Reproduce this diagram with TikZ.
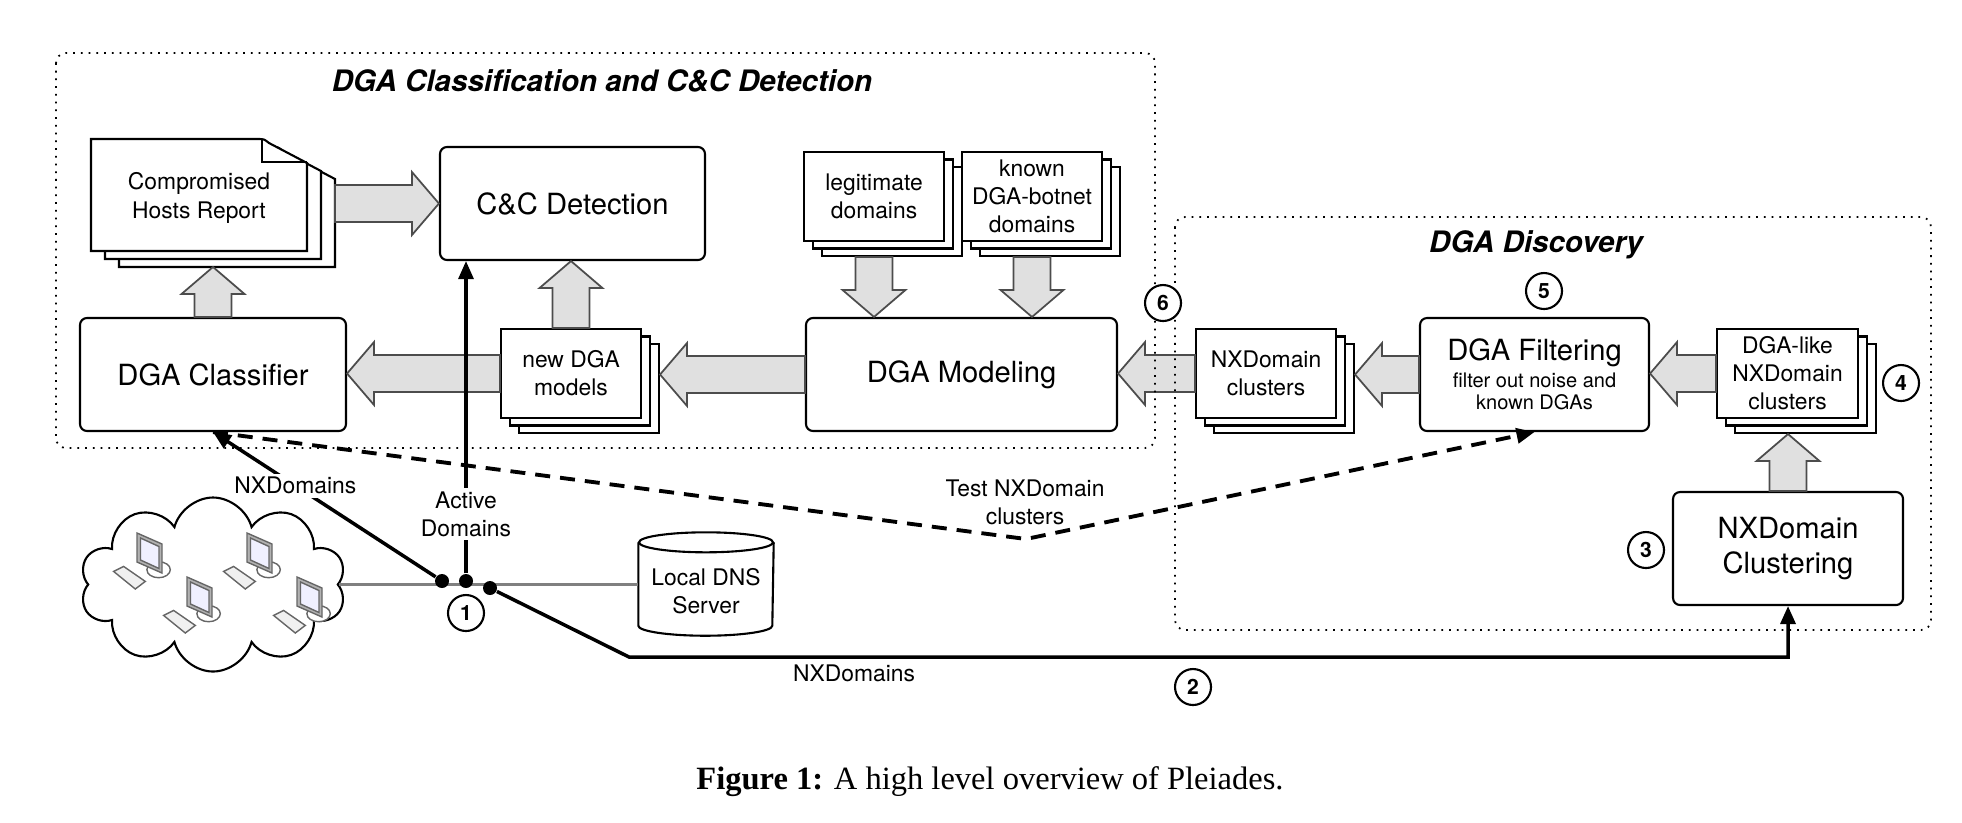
\documentclass[tikz,border=0pt]{standalone}
\usepackage{fontspec}
\setmainfont{TeX Gyre Heros}
\newfontfamily\figcapfont{Liberation Serif}
\usetikzlibrary{calc,arrows.meta,shadows,shapes.symbols}

\newcommand\boxfont{\fontsize{8.3}{10}\selectfont}
\newcommand\sheetfont{\fontsize{6.5}{8}\selectfont}
\newcommand\notefont{\fontsize{5.7}{6.3}\selectfont}

% wide grey arrow from #1 to #2
\newcommand\fatarrow[2]{%
  \draw[fatarrow] ($(#1)!1.85mm!90:(#2)$)
    -- ($(#2)!2.7mm!(#1)!1.85mm!90:(#2)$)
    -- ($(#2)!2.7mm!(#1)!3.15mm!90:(#2)$)
    -- (#2)
    -- ($(#2)!2.7mm!(#1)!3.15mm!-90:(#2)$)
    -- ($(#2)!2.7mm!(#1)!1.85mm!-90:(#2)$)
    -- ($(#1)!1.85mm!-90:(#2)$) -- cycle;}

\tikzset{
  box/.style={draw, line width=0.6pt, rounded corners=0.7mm, inner sep=0pt, align=center, font=\boxfont},
  sheets/.style={draw, fill=white, line width=0.6pt, inner sep=0pt, align=center, font=\sheetfont,
    minimum width=14mm, minimum height=8.9mm,
    copy shadow={shadow xshift=1.8mm, shadow yshift=-1.5mm, draw=black, fill=white, line width=0.6pt},
    copy shadow={shadow xshift=0.9mm, shadow yshift=-0.75mm, draw=black, fill=white, line width=0.6pt}},
  fatarrow/.style={draw=black!70, fill=black!12, line width=0.5pt},
  zone/.style={line width=0.5pt, dash pattern=on 0.5pt off 1.7pt, rounded corners=1mm},
  zonetitle/.style={font=\bfseries\itshape\fontsize{8.4}{10}\selectfont},
  stepno/.style={circle, draw, fill=white, line width=0.6pt, minimum size=3.6mm, inner sep=0pt,
    font=\bfseries\fontsize{6}{6}\selectfont},
  wire/.style={line width=1pt, -{Triangle[length=1.8mm,width=1.5mm]}},
  testline/.style={line width=1.1pt, dash pattern=on 1.5mm off 1mm, -{Triangle[length=1.8mm,width=1.5mm]}},
  lbl/.style={font=\sheetfont, align=center, inner sep=1pt},
  tap/.style={circle, fill, inner sep=0pt, minimum size=1.4mm},
  lanline/.style={draw=black!50, line width=1.1pt},
  pcline/.style={draw=black!60, line width=0.4pt},
}

\begin{document}
\begin{tikzpicture}[x=1mm,y=-1mm]
\useasboundingbox (0,0) rectangle (196.2,82.2);

% report sheets with folded corner
\foreach \d in {2,1,0} {
  \draw[line width=0.6pt, fill=white, shift={(1.4*\d,0.8*\d)}]
    (9.1,13.9) -- (25.7,13.9) .. controls (26.4,13.9) .. (26.9,14.3)
    -- (30.7,16.3) -- (30.7,25.1) -- (9.1,25.1) -- cycle;
}
\draw[line width=0.6pt] (26.2,14.0) -- (26.2,16.2) -- (30.7,16.2);
\node[minimum width=21.6mm, minimum height=11.2mm, inner sep=0pt, align=center, font=\sheetfont]
  (hosts) at (19.9,19.8) {Compromised\\Hosts Report};
\coordinate (rearhosts) at (33.5,26.7);

\node[box, minimum width=26.5mm, minimum height=11.3mm] (cc) at (57.25,20.35) {C\&C Detection};
\node[box, minimum width=26.6mm, minimum height=11.3mm] (dgaclass) at (21.3,37.45) {DGA Classifier};
\node[box, minimum width=31.1mm, minimum height=11.3mm] (model) at (96.15,37.45) {DGA Modeling};
\node[box, minimum width=22.9mm, minimum height=11.3mm] (filter) at (153.45,37.45)
  {DGA Filtering\\[-2.3pt]\notefont filter out noise and\\[-3.7pt]\notefont known DGAs};
\node[box, minimum width=23mm, minimum height=11.3mm] (clust) at (178.8,54.85) {NXDomain\\Clustering};

\node[sheets] (legit) at (87.4,19.65) {legitimate\\domains};
\node[sheets] (known) at (103.2,19.65) {known\\DGA-botnet\\domains};
\node[sheets] (newdga) at (57.1,37.35) {new DGA\\models};
\node[sheets] (nxclus) at (126.6,37.35) {NXDomain\\clusters};
\node[sheets, minimum width=14.1mm] (dgalike) at (178.75,37.35) {DGA-like\\NXDomain\\clusters};
\foreach \s in {legit,known,newdga,nxclus,dgalike} {
  \coordinate (rear\s) at ($(\s.south east)+(1.8,1.5)$);
}

\fatarrow{rearhosts |- cc.west}{cc.west}
\fatarrow{dgaclass.north}{dgaclass.north |- rearhosts}
\fatarrow{newdga.north}{newdga.north |- cc.south}
\fatarrow{newdga.west}{newdga.west -| dgaclass.east}
\fatarrow{model.west}{rearnewdga |- model.west}
\fatarrow{legit.south |- rearlegit}{legit.south |- model.north}
\fatarrow{known.south |- rearknown}{known.south |- model.north}
\fatarrow{nxclus.west}{nxclus.west -| model.east}
\fatarrow{filter.west}{rearnxclus |- filter.west}
\fatarrow{dgalike.west}{dgalike.west -| filter.east}
\fatarrow{clust.north}{clust.north |- reardgalike}

% local network
\node[cloud, draw, line width=0.6pt, cloud puffs=10, cloud ignores aspect,
  minimum width=26.6mm, minimum height=17.4mm] (lan) at (21.3,58.45) {};
\foreach \cx/\cy in {13.7/53.3, 24.7/53.3, 18.7/57.7, 29.7/57.7} {
  \begin{scope}[shift={(\cx,\cy)}]
    \draw[pcline, fill=white] (2.16,3.67) ellipse [x radius=1.17mm, y radius=0.8mm];
    \draw[pcline, fill=black!30] (0,0) -- (2.5,1.1) -- (2.5,4.0) -- (0,2.9) -- cycle;
    \draw[pcline, fill=blue!6] (0.35,0.5) -- (2.2,1.35) -- (2.2,3.55) -- (0.35,2.7) -- cycle;
    \draw[pcline, fill=black!6] (-2.34,3.84) -- (-1.34,3.34) -- (0.83,4.84) -- (-0.17,5.6) -- cycle;
  \end{scope}
}
\node[minimum width=13.4mm, minimum height=6.7mm, inner sep=0pt, align=center, font=\sheetfont]
  (dns) at (70.6,59.15) {Local DNS\\Server};
\coordinate (dnstop) at ($(dns.north)+(0,-1.5)$);
\draw[line width=0.6pt] (dnstop -| dns.west) -- (dns.south west)
  arc[start angle=180, end angle=360, x radius=6.7mm, y radius=1mm] -- (dnstop -| dns.east);
\draw[line width=0.6pt] (dnstop) ellipse [x radius=6.7mm, y radius=1mm];
\draw[lanline] (lan.east) -- (dns.west |- lan.east);

\node[tap] (tapnx) at (44.2,58.1) {};
\node[tap] (tapact) at (46.6,58.1) {};
\node[tap] (tapclu) at (49.0,58.8) {};
\coordinate (knee) at (62.9,65.7);
\coordinate (bend) at (102.6,53.9);

\draw[testline] (dgaclass.south) -- (bend) -- (filter.south);
\node[lbl] (lbltest) at (102.5,50.25) {Test NXDomain\\clusters};
\draw[wire] (tapnx) -- (dgaclass.south) node[lbl, fill=white, pos=0.63] (lblnxa) {NXDomains};
\draw[wire, line width=0.9pt] (tapact) -- (tapact |- cc.south)
  node[lbl, fill=white, pos=0.19] (lblact) {Active\\Domains};
\draw[wire] (tapclu) -- (knee) -| (clust.south);
\node[lbl] (lblnxb) at (85.4,67.3) {NXDomains};

% the two zones
\draw[zone] (5.6,5.3) rectangle (115.5,44.8);
\draw[zone] (117.5,21.7) rectangle (193.1,63.0);
\node[zonetitle] (classtitle) at (60.2,8.1) {DGA Classification and C\&C Detection};
\node[zonetitle] (disctitle) at (153.6,24.5) {DGA Discovery};

\node[stepno] (s1) at (46.6,61.3) {1};
\node[stepno] (s2) at (119.3,68.7) {2};
\node[stepno] (s3) at (164.6,55.0) {3};
\node[stepno] (s4) at (190.1,38.3) {4};
\node[stepno] (s5) at (154.4,29.1) {5};
\node[stepno] (s6) at (116.3,30.3) {6};

\node[font=\figcapfont\fontsize{9.25}{11}\selectfont] (caption) at (99.0,78.2)
  {\textbf{Figure 1:} A high level overview of Pleiades.};
\end{tikzpicture}
\end{document}
